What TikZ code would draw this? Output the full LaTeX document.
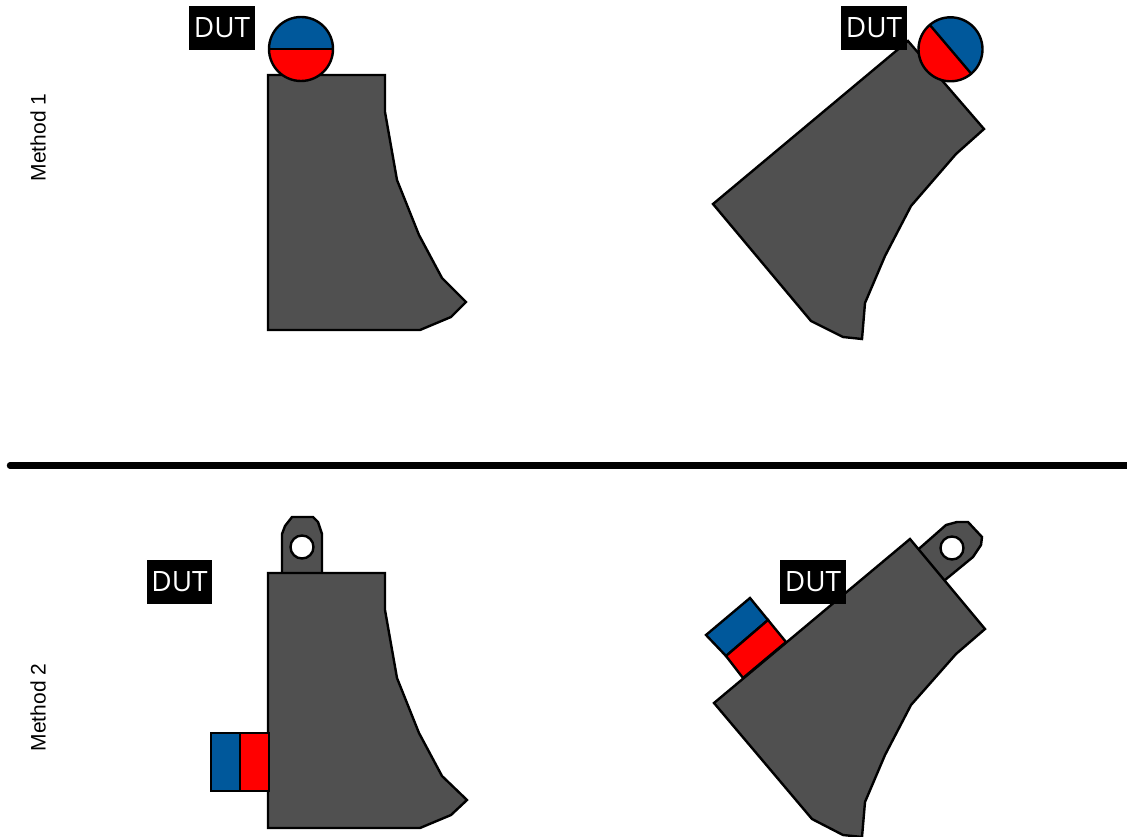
\documentclass[tikz,border=0pt]{standalone}
\usepackage{fontspec}
\setmainfont{Open Sans}
\newfontfamily\labelfont{Liberation Sans}
\definecolor{bodygrey}{HTML}{505050}
\definecolor{polblue}{HTML}{00589B}
\definecolor{polred}{HTML}{FF0000}
\newcommand{\dutword}{\raisebox{-1.2pt}{DUT}}
\tikzset{
  outline/.style={draw=black,line width=2.4pt,line join=miter},
  bodyshape/.style={outline,fill=bodygrey},
  dutlabel/.style={fill=black,text=white,inner sep=0pt,anchor=center,font=\fontsize{28}{28}\selectfont},
  methodlabel/.style={rotate=90,inner sep=0pt,anchor=center,font=\labelfont\fontsize{21}{21}\selectfont},
  hole/.style={outline,fill=white}
}
\begin{document}
\begin{tikzpicture}[x=1pt,y=-1pt]
\useasboundingbox (0,0) rectangle (1127,837);
% Method labels
\node[methodlabel] (m1) at (38,137.5) {Method 1};
\node[methodlabel] (m2) at (38,707.5) {Method 2};
% separator
\draw[line width=6.4pt,line cap=round] (10,465.6) -- (1130,465.6);
% top-left
\draw[bodyshape] (268,75) -- (385,75) -- (385,112) -- (397,180) -- (419,235) -- (442,278) -- (466,302) -- (451,317) -- (420,330) -- (268,330) -- cycle;
\begin{scope}
\clip (301,49) circle[radius=32pt];
\fill[polblue] (265,10) rectangle (340,49);
\fill[polred] (265,49) rectangle (340,90);
\end{scope}
\draw[outline] (269,49) -- (333,49);
\draw[outline] (301,49) circle[radius=32pt];
\node[dutlabel,minimum width=66pt,minimum height=44pt] (d1) at (222,28) {\dutword};
% top-right
\draw[bodyshape] (908,41) -- (984,129) -- (956,154) -- (911,206) -- (885,256) -- (865,303) -- (862,339) -- (843,337) -- (811,321) -- (713,204) -- cycle;
\begin{scope}
\clip (950.5,49.3) circle[radius=32pt];
\fill[polred] (900,0) rectangle (1000,100);
\fill[polblue] (929.8,24.9) -- (971.2,73.7) -- (1000,60) -- (1000,0) -- (930,0) -- cycle;
\end{scope}
\draw[outline] (929.8,24.9) -- (971.2,73.7);
\draw[outline] (950.5,49.3) circle[radius=32pt];
\node[dutlabel,minimum width=66pt,minimum height=44pt] (d2) at (874,28) {\dutword};
% bottom-left
\draw[bodyshape] (282,574) -- (282,534) -- (285,526) -- (292,517) -- (313,517) -- (318,522) -- (322,534) -- (322,574) -- cycle;
\draw[hole] (302,547) circle[radius=11.5pt];
\draw[bodyshape] (268,573) -- (385,573) -- (385,610) -- (397,678) -- (419,733) -- (442,776) -- (467,800) -- (451,815) -- (420,828) -- (268,828) -- cycle;
\draw[outline,fill=polblue] (211,733) rectangle (240,791);
\draw[outline,fill=polred] (240,733) rectangle (269,791);
\node[dutlabel,minimum width=65pt,minimum height=44pt] (d3) at (179.5,582) {\dutword};
% bottom-right
\draw[bodyshape] (915,552) -- (921,547) -- (946,525) -- (957,522) -- (968,522) -- (982,537) -- (981,545) -- (973,557) -- (945,580) -- (939,585) -- cycle;
\draw[hole] (952,548) circle[radius=11.5pt];
\draw[bodyshape] (910,539) -- (985,629) -- (956,654) -- (911,705) -- (885,755) -- (865,802) -- (862,837) -- (843,835) -- (812,819) -- (714,703) -- cycle;
\draw[outline,fill=polblue] (750,598) -- (706,635) -- (726,656) -- (768,620) -- cycle;
\draw[outline,fill=polred] (768,620) -- (726,656) -- (743,678) -- (786,642) -- cycle;
\node[dutlabel,minimum width=66pt,minimum height=44pt] (d4) at (813,582) {\dutword};
\end{tikzpicture}
\end{document}
